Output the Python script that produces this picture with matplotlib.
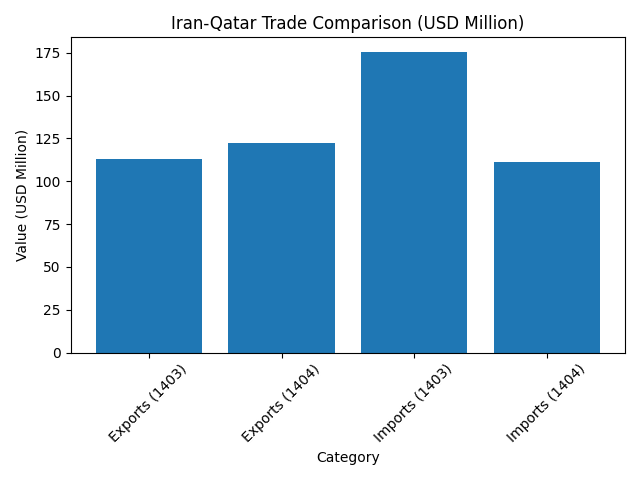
import matplotlib
matplotlib.use("Agg")
import matplotlib.pyplot as plt

categories = ["Exports (1403)", "Exports (1404)", "Imports (1403)", "Imports (1404)"]
values = [112.8, 122.2, 175.3, 111.1]

fig, ax = plt.subplots(figsize=(6.4, 4.8), dpi=100)
ax.bar(categories, values, color="#1f77b4")
ax.set_title("Iran-Qatar Trade Comparison (USD Million)")
ax.set_xlabel("Category")
ax.set_ylabel("Value (USD Million)")
plt.xticks(rotation=45)
fig.tight_layout()
fig.savefig("out.png")
